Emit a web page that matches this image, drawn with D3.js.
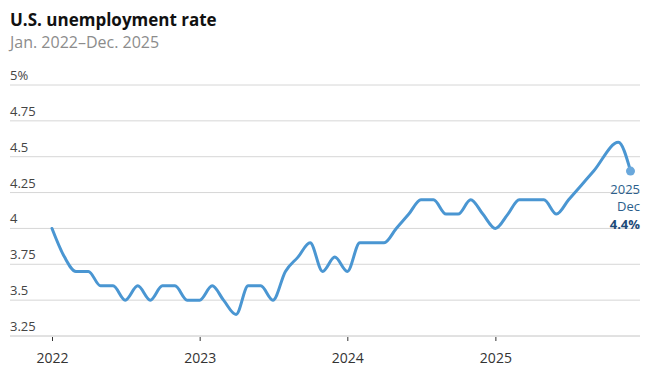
<!DOCTYPE html>
<html>
<head>
<meta charset="utf-8">
<script src="https://cdn.jsdelivr.net/npm/d3@7"></script>
<style>
  body { margin: 0; background: #fff; }
  text { font-family: "Open Sans", Lato, sans-serif; }
</style>
</head>
<body>
<div id="chart"></div>
<script>
// monthly unemployment rate, Jan 2022 - Dec 2025 (no October 2025 release)
var months = [
    "2022-01", "2022-02", "2022-03", "2022-04", "2022-05", "2022-06", "2022-07", "2022-08", "2022-09", "2022-10", "2022-11", "2022-12",
    "2023-01", "2023-02", "2023-03", "2023-04", "2023-05", "2023-06", "2023-07", "2023-08", "2023-09", "2023-10", "2023-11", "2023-12",
    "2024-01", "2024-02", "2024-03", "2024-04", "2024-05", "2024-06", "2024-07", "2024-08", "2024-09", "2024-10", "2024-11", "2024-12",
    "2025-01", "2025-02", "2025-03", "2025-04", "2025-05", "2025-06", "2025-07", "2025-08", "2025-09", "2025-10", "2025-11", "2025-12"
];
var rates = [
    4.0, 3.8, 3.7, 3.7, 3.6, 3.6, 3.5, 3.6, 3.5, 3.6, 3.6, 3.5,
    3.5, 3.6, 3.5, 3.4, 3.6, 3.6, 3.5, 3.7, 3.8, 3.9, 3.7, 3.8,
    3.7, 3.9, 3.9, 3.9, 4.0, 4.1, 4.2, 4.2, 4.1, 4.1, 4.2, 4.1,
    4.0, 4.1, 4.2, 4.2, 4.2, 4.1, 4.2, 4.3, 4.4, null, 4.6, 4.4
];
var yTicks = [3.25, 3.5, 3.75, 4, 4.25, 4.5, 4.75, 5];
var yTickLabels = ["3.25", "3.5", "3.75", "4", "4.25", "4.5", "4.75", "5%"];
var xTicks = ["2022-01", "2023-01", "2024-01", "2025-01"];
var xTickLabels = ["2022", "2023", "2024", "2025"];

var svgWidth = 664;
var svgHeight = 374;

var parseMonth = d3.timeParse("%Y-%m");

var data = months.map(function (m, i) {
    return { date: parseMonth(m), rate: rates[i] };
}).filter(d => d.rate !== null);

var svg = d3.select("#chart")
    .append("svg")
    .attr("width", svgWidth)
    .attr("height", svgHeight);

var x = d3.scaleTime()
    .domain([parseMonth(months[0]), parseMonth(months[months.length - 1])])
    .range([52, 630.5]);

var y = d3.scaleLinear()
    .domain([3.25, 5])
    .range([336, 85]);

// title
svg.append("text")
    .attr("x", 10)
    .attr("y", 26)
    .attr("font-size", "17px")
    .attr("font-weight", "bold")
    .attr("fill", "#111")
    .text("U.S. unemployment rate");

svg.append("text")
    .attr("x", 10)
    .attr("y", 48)
    .attr("font-size", "16px")
    .attr("fill", "#8c8c8c")
    .text("Jan. 2022\u2013Dec. 2025");

// gridlines + y labels
var grid = svg.append("g");
grid.selectAll("line")
    .data(yTicks)
    .enter()
    .append("line")
    .attr("x1", 10)
    .attr("x2", 640)
    .attr("y1", d => y(d))
    .attr("y2", d => y(d))
    .attr("stroke", d => d === 3.25 ? "#c4c4c4" : "#d6d6d6")
    .attr("stroke-width", 1);

grid.selectAll("text")
    .data(yTicks)
    .enter()
    .append("text")
    .attr("x", 10)
    .attr("y", d => y(d) - 5)
    .attr("font-size", "13px")
    .attr("fill", "#444")
    .text((d, i) => yTickLabels[i]);

// x axis ticks
var xAxis = svg.append("g")
    .attr("transform", `translate(0, ${y(3.25) + 1})`)
    .call(d3.axisBottom(x)
        .tickValues(xTicks.map(parseMonth))
        .tickFormat((d, i) => xTickLabels[i])
        .tickSize(4)
        .tickPadding(12));

xAxis.select(".domain").remove();
xAxis.selectAll(".tick line").attr("stroke", "#333");
xAxis.selectAll(".tick text")
    .attr("font-family", "'Open Sans', Lato, sans-serif")
    .attr("font-size", "14px")
    .attr("fill", "#333");

// line
var line = d3.line()
    .x(d => x(d.date))
    .y(d => y(d.rate))
    .curve(d3.curveMonotoneX);

svg.append("path")
    .datum(data)
    .attr("d", line)
    .attr("fill", "none")
    .attr("stroke", "#4a96d2")
    .attr("stroke-width", 3)
    .attr("stroke-linejoin", "round")
    .attr("stroke-linecap", "round");

// last point
var last = data[data.length - 1];
svg.append("circle")
    .attr("cx", x(last.date))
    .attr("cy", y(last.rate))
    .attr("r", 4.5)
    .attr("fill", "#6aa8dc");

var note = svg.append("g")
    .attr("text-anchor", "end")
    .attr("font-size", "13px");

note.append("text")
    .attr("x", 640)
    .attr("y", 193.5)
    .attr("fill", "#2c5f8c")
    .text(d3.timeFormat("%Y")(last.date));

note.append("text")
    .attr("x", 640)
    .attr("y", 211)
    .attr("fill", "#2c5f8c")
    .text(d3.timeFormat("%b")(last.date));

note.append("text")
    .attr("x", 640)
    .attr("y", 228.5)
    .attr("font-weight", "bold")
    .attr("fill", "#1d4b78")
    .text(last.rate.toFixed(1) + "%");
</script>
</body>
</html>
